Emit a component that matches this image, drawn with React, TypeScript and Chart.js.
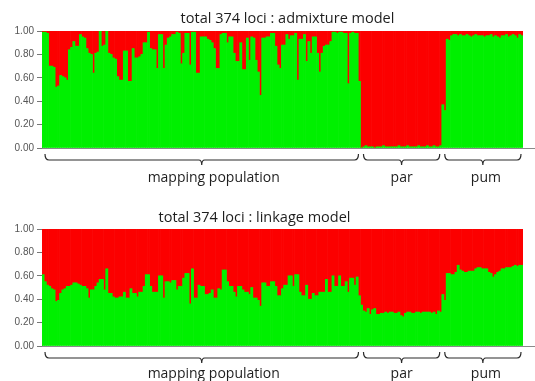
import React, { useEffect, useRef } from 'react';
import { Chart, registerables } from 'chart.js';

Chart.register(...registerables);

// ---- data ----
const groupNames = ['mapping population', 'par', 'pum'];
const groupSizes = [145, 37, 37];
const yTickValues = [0, 0.2, 0.4, 0.6, 0.8, 1.0];

// admixture model: proportion of cluster 1 (green) per individual
const admixMapping = [
  0.99, 0.99, 0.98, 0.70, 0.70, 0.69, 0.52, 0.53, 0.62, 0.61,
  0.60, 0.58, 0.84, 0.86, 0.91, 0.87, 0.87, 0.97, 0.95, 0.94,
  0.85, 0.81, 0.80, 0.64, 0.81, 0.82, 1.00, 0.87, 0.88, 1.00,
  0.81, 0.80, 0.77, 0.76, 0.61, 0.58, 0.58, 0.83, 0.83, 0.57,
  0.57, 0.85, 0.77, 0.77, 0.78, 0.80, 0.90, 0.90, 0.99, 0.85,
  0.84, 0.84, 0.68, 0.97, 0.97, 0.68, 0.88, 0.94, 0.95, 0.97,
  0.97, 0.99, 0.98, 0.72, 0.81, 0.98, 0.98, 0.71, 0.99, 0.99,
  0.64, 0.64, 0.95, 0.95, 0.95, 0.93, 0.92, 0.90, 0.85, 0.68,
  0.68, 0.97, 0.98, 0.98, 0.90, 0.95, 0.95, 0.81, 0.74, 0.74,
  0.90, 0.67, 0.67, 0.94, 0.75, 0.95, 0.94, 0.75, 0.65, 0.45,
  0.94, 0.94, 0.95, 0.95,
  0.98, 0.98, 0.87, 0.71, 0.68, 0.88, 0.88, 0.97, 0.93, 0.96,
  0.96, 0.98, 0.58, 0.93, 0.93, 0.97, 0.74, 0.91, 0.81, 0.95,
  0.95, 0.81, 0.65, 0.81, 0.87, 0.88, 0.88, 0.91, 0.99, 0.99,
  0.98, 0.99, 0.99, 0.98, 0.98, 0.55, 0.98, 0.99, 0.98, 0.98,
  0.57,
];
const admixPar = [
  0.00, 0.01, 0.02, 0.01, 0.01, 0.01, 0.00, 0.01, 0.01, 0.01,
  0.02, 0.01, 0.01, 0.01, 0.01, 0.01, 0.01, 0.02, 0.01, 0.01,
  0.01, 0.02, 0.01, 0.01, 0.01, 0.01, 0.02, 0.01, 0.01, 0.01,
  0.02, 0.01, 0.01, 0.02, 0.01, 0.01, 0.02,
];
const admixPum = [
  0.37, 0.32, 0.93, 0.92, 0.96, 0.97, 0.97, 0.96, 0.97, 0.96,
  0.96, 0.97, 0.96, 0.95, 0.96, 0.97, 0.96, 0.96, 0.96, 0.95,
  0.96, 0.96, 0.97, 0.95, 0.96, 0.95, 0.94, 0.96, 0.96, 0.97,
  0.95, 0.96, 0.97, 0.96, 0.94, 0.97, 0.96,
];

// linkage model
const linkMapping = [
  0.61, 0.55, 0.52, 0.51, 0.49, 0.48, 0.38, 0.39, 0.45, 0.48,
  0.49, 0.51, 0.51, 0.52, 0.54, 0.54, 0.53, 0.52, 0.51, 0.51,
  0.49, 0.41, 0.48, 0.48, 0.51, 0.54, 0.57, 0.57, 0.48, 0.66,
  0.45, 0.45, 0.42, 0.41, 0.41, 0.42, 0.42, 0.46, 0.41, 0.41,
  0.49, 0.45, 0.45, 0.42, 0.46, 0.46, 0.51, 0.61, 0.61, 0.51,
  0.46, 0.46, 0.46, 0.60, 0.60, 0.41, 0.55, 0.55, 0.54, 0.56,
  0.56, 0.48, 0.51, 0.51, 0.58, 0.62, 0.62, 0.36, 0.66, 0.41,
  0.41, 0.52, 0.51, 0.51, 0.44, 0.44, 0.45, 0.48, 0.41, 0.41,
  0.49, 0.48, 0.65, 0.65, 0.55, 0.51, 0.51, 0.46, 0.42, 0.51,
  0.51, 0.48, 0.46, 0.46, 0.44, 0.50, 0.41, 0.41, 0.39, 0.34,
  0.54, 0.54, 0.51, 0.51,
  0.55, 0.55, 0.51, 0.43, 0.43, 0.49, 0.52, 0.52, 0.60, 0.60,
  0.51, 0.61, 0.61, 0.46, 0.43, 0.43, 0.52, 0.40, 0.40, 0.45,
  0.43, 0.43, 0.46, 0.46, 0.46, 0.57, 0.46, 0.46, 0.60, 0.51,
  0.51, 0.60, 0.51, 0.51, 0.55, 0.46, 0.58, 0.58, 0.52, 0.59,
  0.43,
];
const linkPar = [
  0.35, 0.30, 0.29, 0.32, 0.27, 0.31, 0.32, 0.27, 0.27, 0.28,
  0.28, 0.29, 0.28, 0.29, 0.29, 0.28, 0.28, 0.29, 0.26, 0.25,
  0.28, 0.29, 0.29, 0.28, 0.28, 0.29, 0.29, 0.28, 0.29, 0.29,
  0.29, 0.29, 0.28, 0.29, 0.27, 0.30, 0.29,
];
const linkPum = [
  0.44, 0.39, 0.62, 0.62, 0.61, 0.61, 0.63, 0.69, 0.65, 0.64,
  0.63, 0.63, 0.64, 0.64, 0.64, 0.66, 0.67, 0.67, 0.66, 0.66,
  0.66, 0.63, 0.62, 0.59, 0.61, 0.63, 0.64, 0.66, 0.66, 0.67,
  0.67, 0.67, 0.68, 0.69, 0.68, 0.69, 0.69,
];

const admixGreen = [...admixMapping, ...admixPar, ...admixPum];
const linkGreen = [...linkMapping, ...linkPar, ...linkPum];
const individuals = admixGreen.map((_, i) => String(i + 1));

const GREEN = 'rgb(0, 240, 0)';
const RED = 'rgb(252, 0, 0)';

const decorPlugin = {
  id: 'decor',
  afterDraw(chart: any, _args: any, opts: any) {
    const { ctx, chartArea: a, scales } = chart;
    const xs = scales.x;
    ctx.save();
    // baseline extending to the right edge
    ctx.strokeStyle = '#8a8a8a';
    ctx.lineWidth = 1;
    const by = Math.round(a.bottom) + 0.5;
    ctx.beginPath();
    ctx.moveTo(a.left, by);
    ctx.lineTo(chart.width, by);
    ctx.stroke();

    // title
    ctx.fillStyle = '#1e1e1e';
    ctx.font = '14.5px "Open Sans"';
    ctx.textAlign = 'center';
    ctx.textBaseline = 'middle';
    ctx.fillText(opts.title, (a.left + a.right) / 2 + opts.titleShift, opts.titleY);

    // group brackets
    const half = (xs.getPixelForValue(1) - xs.getPixelForValue(0)) / 2;
    let start = 0;
    ctx.strokeStyle = '#2a2a2a';
    ctx.lineWidth = 1.2;
    ctx.font = '14px "Open Sans"';
    groupSizes.forEach((n, gi) => {
      const x0 = xs.getPixelForValue(start) - half + 3;
      const x1 = xs.getPixelForValue(start + n - 1) + half - 2;
      const mid = (x0 + x1) / 2;
      const yb = a.bottom + 12;
      ctx.beginPath();
      ctx.moveTo(x0, yb - 6);
      ctx.quadraticCurveTo(x0, yb, x0 + 4, yb);
      ctx.lineTo(mid - 3, yb);
      ctx.quadraticCurveTo(mid, yb, mid, yb + 5);
      ctx.quadraticCurveTo(mid, yb, mid + 3, yb);
      ctx.lineTo(x1 - 4, yb);
      ctx.quadraticCurveTo(x1, yb, x1, yb - 6);
      ctx.stroke();
      ctx.fillText(groupNames[gi], mid + opts.labelShifts[gi], a.bottom + opts.labelDy);
      start += n;
    });
    ctx.restore();
  },
};

function makeConfig(green: number[], title: string, titleShift: number, titleY: number, pad: any, labelDy: number) {
  return {
    type: 'bar' as const,
    data: {
      labels: individuals,
      datasets: [
        { label: 'cluster 1', data: green, backgroundColor: GREEN, borderWidth: 0, stack: 's' },
        { label: 'cluster 2', data: green.map((g) => 1 - g), backgroundColor: RED, borderWidth: 0, stack: 's' },
      ],
    },
    options: {
      responsive: false,
      animation: false as const,
      devicePixelRatio: 1,
      layout: { padding: pad },
      datasets: { bar: { barPercentage: 1, categoryPercentage: 1 } },
      plugins: {
        legend: { display: false },
        tooltip: { enabled: false },
        title: { display: false },
        decor: { title, titleShift, titleY, labelDy, labelShifts: [12, 0, 3] },
      },
      scales: {
        x: { stacked: true, display: false },
        y: {
          stacked: true,
          min: 0,
          max: 1,
          afterFit: (s: any) => { s.width = 42; },
          afterBuildTicks: (s: any) => { s.ticks = yTickValues.map((v) => ({ value: v })); },
          ticks: {
            callback: (v: any) => Number(v).toFixed(2),
            font: { family: '"Liberation Sans", Arial, sans-serif', size: 10 },
            color: '#555',
            padding: 3,
          },
          grid: { drawOnChartArea: false, drawTicks: true, tickLength: 5, color: '#777' },
          border: { display: true, color: '#777' },
        },
      },
    },
    plugins: [decorPlugin],
  };
}

export default function App() {
  const topRef = useRef<HTMLCanvasElement>(null);
  const botRef = useRef<HTMLCanvasElement>(null);
  useEffect(() => {
    const c1 = new Chart(topRef.current as any, makeConfig(admixGreen, 'total 374 loci : admixture model', 5, 19,
      { left: 0, right: 12, top: 31, bottom: 42 }, 30) as any);
    const c2 = new Chart(botRef.current as any, makeConfig(linkGreen, 'total 374 loci : linkage model', -28, 28,
      { left: 0, right: 12, top: 39, bottom: 35 }, 28) as any);
    return () => { c1.destroy(); c2.destroy(); };
  }, []);
  return (
    <div style={{ position: 'absolute', left: 0, top: 0, width: 535, height: 381, background: '#fff' }}>
      <canvas ref={topRef} width={535} height={190} style={{ display: 'block' }} />
      <canvas ref={botRef} width={535} height={191} style={{ display: 'block' }} />
    </div>
  );
}
